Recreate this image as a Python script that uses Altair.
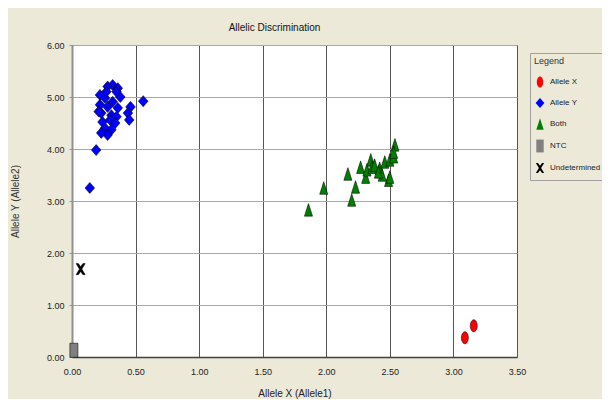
import altair as alt
import pandas as pd

categories = ["Allele X", "Allele Y", "Both", "NTC", "Undetermined"]

allele_x_x = [3.09, 3.16]
allele_x_y = [0.37, 0.60]

allele_y_x = [0.14, 0.19, 0.56, 0.46, 0.44, 0.45, 0.32, 0.36, 0.28, 0.22, 0.38, 0.26,
              0.32, 0.22, 0.28, 0.36, 0.23, 0.31, 0.35, 0.24, 0.30, 0.34, 0.26, 0.31,
              0.28, 0.23, 0.21, 0.27, 0.35]
allele_y_y = [3.25, 3.98, 4.92, 4.81, 4.69, 4.56, 5.23, 5.17, 5.20, 5.04, 5.00, 4.98,
              4.91, 4.85, 4.81, 4.79, 4.69, 4.65, 4.62, 4.52, 4.56, 4.50, 4.40, 4.37,
              4.27, 4.31, 4.72, 5.10, 5.10]

both_x = [1.86, 1.98, 2.17, 2.23, 2.20, 2.27, 2.31, 2.32, 2.35, 2.36, 2.38, 2.42,
          2.44, 2.46, 2.49, 2.50, 2.50, 2.53, 2.54, 2.53, 2.41]
both_y = [2.83, 3.25, 3.52, 3.27, 3.02, 3.65, 3.46, 3.60, 3.79, 3.65, 3.69, 3.63,
          3.50, 3.75, 3.40, 3.46, 3.79, 3.85, 4.08, 3.94, 3.56]

ntc_x = [0.015]
ntc_y = [0.13]

undet_x = [0.068]
undet_y = [1.69]

fills = ["#FF0000", "#0000FF", "#008000", "#808080", "#000000"]
shapes = [
    "M0,-1C0.32,-1,0.58,-0.55,0.58,0C0.58,0.55,0.32,1,0,1C-0.32,1,-0.58,0.55,-0.58,0C-0.58,-0.55,-0.32,-1,0,-1Z",
    "M0,-0.92L0.8,0L0,0.92L-0.8,0Z",
    "M0,-1.05L0.67,1.05L-0.67,1.05Z",
    "M-0.67,-1.17L0.67,-1.17L0.67,1.17L-0.67,1.17Z",
    "M-0.75,-0.92L-0.38,-0.92L0,-0.4L0.38,-0.92L0.75,-0.92L0.2,0L0.75,0.92L0.38,0.92L0,0.4L-0.38,0.92L-0.75,0.92L-0.2,0Z",
]

x_ticks = [0, 0.5, 1.0, 1.5, 2.0, 2.5, 3.0, 3.5]
y_ticks = [0, 1, 2, 3, 4, 5, 6]

rows = []
for cat, xs, ys in [
    ("Allele Y", allele_y_x, allele_y_y),
    ("Both", both_x, both_y),
    ("Allele X", allele_x_x, allele_x_y),
    ("NTC", ntc_x, ntc_y),
    ("Undetermined", undet_x, undet_y),
]:
    for a, b in zip(xs, ys):
        rows.append({"x": a, "y": b, "cat": cat})
df = pd.DataFrame(rows)

NARROW = "Liberation Sans Narrow, Arial Narrow, Liberation Sans, sans-serif"

points = alt.Chart(df).mark_point(
    filled=True, opacity=1, size=144, stroke="#000000", strokeOpacity=0.55, strokeWidth=1
).encode(
    x=alt.X(
        "x:Q",
        scale=alt.Scale(domain=[0, 3.5], nice=False, zero=False),
        axis=alt.Axis(
            values=x_ticks, format=".2f", title="Allele X (Allele1)",
            grid=True, gridColor="#555555", gridWidth=1,
            domainColor="#404040", domainWidth=1.5,
            ticks=False, labelPadding=10, labelFlush=False,
            labelFont=NARROW, labelFontSize=9, labelColor="#222222",
            titleFont=NARROW, titleFontSize=10, titleFontWeight="normal",
            titleColor="#222222", titlePadding=12,
        ),
    ),
    y=alt.Y(
        "y:Q",
        scale=alt.Scale(domain=[0, 6], nice=False),
        axis=alt.Axis(
            values=y_ticks, format=".2f", title="Allele Y (Allele2)",
            grid=True, gridColor="#a8a8a8", gridWidth=1,
            domainColor="#909090", domainWidth=2,
            ticks=True, tickColor="#909090", tickSize=3, labelPadding=5,
            labelFlush=False,
            labelFont=NARROW, labelFontSize=9, labelColor="#222222",
            titleFont="Liberation Sans, sans-serif", titleFontSize=10,
            titleFontWeight="normal", titleColor="#333333", titlePadding=26,
        ),
    ),
    fill=alt.Fill("cat:N", scale=alt.Scale(domain=categories, range=fills),
                  legend=alt.Legend(title="Legend")),
    shape=alt.Shape("cat:N", scale=alt.Scale(domain=categories, range=shapes),
                    legend=alt.Legend(title="Legend")),
)

chart = alt.layer(points).properties(
    width=445,
    height=312,
    autosize=alt.AutoSizeParams(type="none"),
    padding={"left": 64, "top": 37, "right": 85, "bottom": 42},
    background="#ECE9D8",
    title=alt.TitleParams(
        "Allelic Discrimination", font=NARROW, fontSize=10, fontWeight="normal",
        color="#111111", anchor="middle", dx=-20, offset=8,
    ),
).configure_view(fill="white", stroke="#808080", strokeWidth=1).configure_legend(
    orient="none",
    legendX=458,
    legendY=8,
    strokeColor="#a0a0a0",
    padding=4,
    titleFont=NARROW,
    titleFontSize=9,
    titleFontWeight="normal",
    titleColor="#333333",
    titlePadding=10,
    labelFont=NARROW,
    labelFontSize=8,
    labelColor="#222222",
    symbolSize=121,
    symbolStrokeColor="#555555",
    symbolStrokeWidth=1,
    rowPadding=5,
    labelOffset=4,
)

chart.save("out.html", embed_options={"renderer": "svg", "actions": False})
